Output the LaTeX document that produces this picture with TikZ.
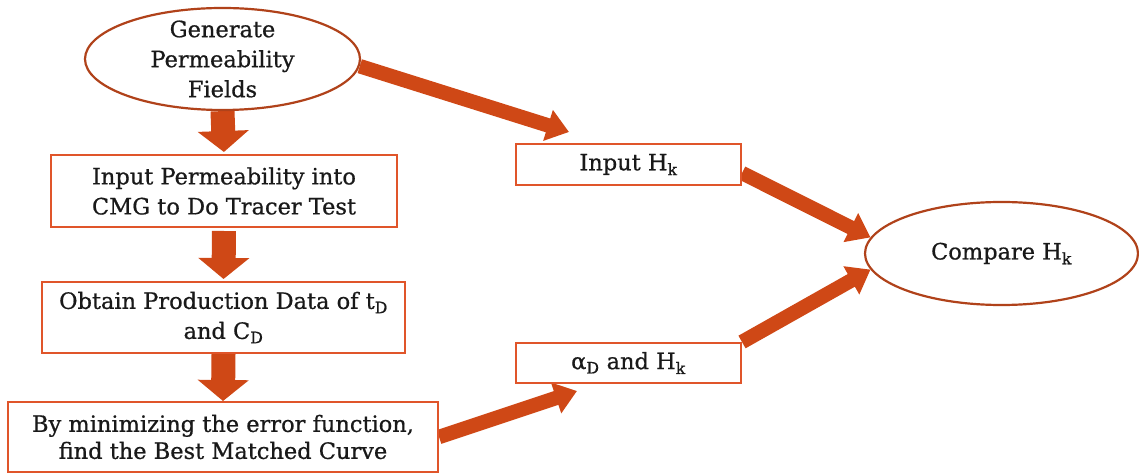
\documentclass[tikz,border=0pt]{standalone}
\usepackage{fontspec}
\setmainfont{DejaVu Serif}[FakeBold=0.7]
\usetikzlibrary{shapes.geometric,arrows.meta,backgrounds}
\definecolor{boxc}{HTML}{E0552A}
\definecolor{ellc}{HTML}{B0421A}
\definecolor{arrc}{HTML}{CF4816}
\begin{document}
\begin{tikzpicture}[x=1pt,y=1pt,
  txt/.style={font=\fontsize{22.5}{30}\selectfont, align=center, text=black!90},
  stepbox/.style={draw=boxc, line width=2pt, fill=white, inner sep=0pt, txt},
  oval/.style={ellipse, draw=ellc, line width=2.2pt, fill=white, inner sep=-15pt, txt},
  fatdown/.style={draw=arrc, line width=24pt, -{Triangle[width=50pt,length=21pt]}},
  fatdiag/.style={draw=arrc, line width=14.5pt, -{Triangle[width=31pt,length=22pt]}}]
\useasboundingbox (0,0) rectangle (1139,474);

\node[oval, minimum width=275pt, minimum height=102pt] (gen) at (222.5,415)
  {Generate\\Permeability\\Fields};
\node[stepbox, minimum width=346pt, minimum height=72pt] (b1) at (224,283)
  {Input Permeability into\\CMG to Do Tracer Test};
\node[stepbox, minimum width=363pt, minimum height=71pt] (b2) at (223.5,156.5)
  {Obtain Production Data of t\textsubscript{D}\\and C\textsubscript{D}};
\node[stepbox, minimum width=430pt, minimum height=70pt,
      font=\fontsize{22.5}{27}\selectfont] (b3) at (223,37)
  {By minimizing the error function,\\find the Best Matched Curve};
\node[stepbox, minimum width=225pt, minimum height=41pt] (hk) at (628.5,309.5)
  {Input H\textsubscript{k}};
\node[stepbox, minimum width=225pt, minimum height=40pt] (ad) at (628.5,111)
  {α\textsubscript{D} and H\textsubscript{k}};
\node[oval, minimum width=273pt, minimum height=103pt] (cmp) at (1001.5,220.5)
  {Compare H\textsubscript{k}};

\coordinate (tipA) at ([shift={(54pt,11pt)}]hk.north west);
\coordinate (tipD) at ([shift={(62pt,-7pt)}]ad.south west);

\begin{scope}[on background layer]
\draw[fatdown, shorten >=2pt] (gen.south) -- (b1.north);
\draw[fatdown, shorten <=3pt, shorten >=2pt] (b1.south) -- (b2.north);
\draw[fatdown] (b2.south) -- (b3.north);
\draw[fatdiag] (gen.-3) -- (tipA);
\draw[fatdiag] ([yshift=-8.5pt]hk.east) -- (cmp.173);
\draw[fatdiag] (ad.north east) -- (cmp.187);
\draw[fatdiag] (b3.east) -- (tipD);
\end{scope}
\end{tikzpicture}
\end{document}
